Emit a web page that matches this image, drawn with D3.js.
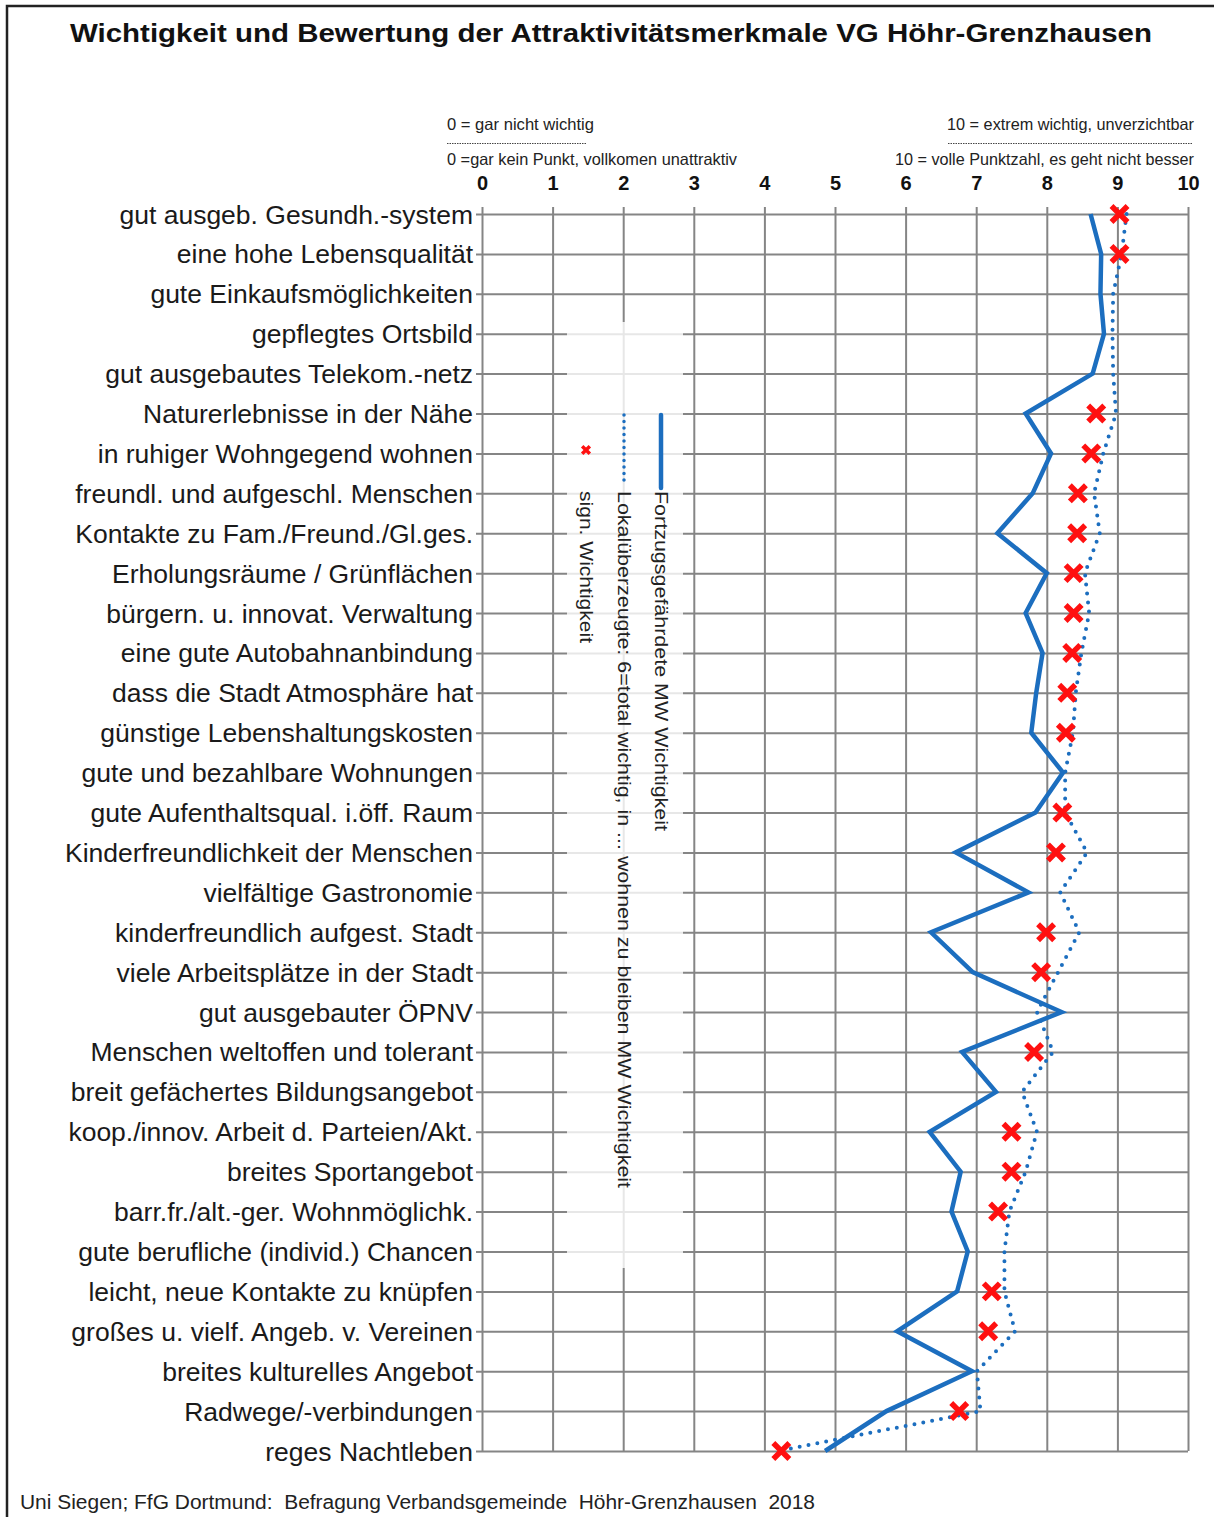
<!DOCTYPE html>
<html>
<head>
<meta charset="utf-8">
<script src="https://cdn.jsdelivr.net/npm/d3@7"></script>
<style>
body { margin: 0; background: #fff; }
text { font-family: "Liberation Sans", Arial, sans-serif; }
.narrow { font-family: "Liberation Sans Narrow", "Arial Narrow", "Liberation Sans", sans-serif; }
</style>
</head>
<body>
<svg></svg>
<script>

var screen = {width: 1214, height: 1517};
var plot = {left: 482, right: 1188, top: 214, bottom: 1451};

// categories, top to bottom
var categories = [
  "gut ausgeb. Gesundh.-system",
  "eine hohe Lebensqualität",
  "gute Einkaufsmöglichkeiten",
  "gepflegtes Ortsbild",
  "gut ausgebautes Telekom.-netz",
  "Naturerlebnisse in der Nähe",
  "in ruhiger Wohngegend wohnen",
  "freundl. und aufgeschl. Menschen",
  "Kontakte zu Fam./Freund./Gl.ges.",
  "Erholungsräume / Grünflächen",
  "bürgern. u. innovat. Verwaltung",
  "eine gute Autobahnanbindung",
  "dass die Stadt Atmosphäre hat",
  "günstige Lebenshaltungskosten",
  "gute und bezahlbare Wohnungen",
  "gute Aufenthaltsqual. i.öff. Raum",
  "Kinderfreundlichkeit der Menschen",
  "vielfältige Gastronomie",
  "kinderfreundlich aufgest. Stadt",
  "viele Arbeitsplätze in der Stadt",
  "gut ausgebauter ÖPNV",
  "Menschen weltoffen und tolerant",
  "breit gefächertes Bildungsangebot",
  "koop./innov. Arbeit d. Parteien/Akt.",
  "breites Sportangebot",
  "barr.fr./alt.-ger. Wohnmöglichk.",
  "gute berufliche (individ.) Chancen",
  "leicht, neue Kontakte zu knüpfen",
  "großes u. vielf. Angeb. v. Vereinen",
  "breites kulturelles Angebot",
  "Radwege/-verbindungen",
  "reges Nachtleben"
];

// Fortzugsgefährdete MW Wichtigkeit (solid)
var fortzug = [8.62, 8.77, 8.76, 8.81, 8.65, 7.70, 8.06, 7.80, 7.30, 8.00,
               7.70, 7.94, 7.85, 7.78, 8.23, 7.84, 6.71, 7.74, 6.36, 6.95,
               8.21, 6.80, 7.28, 6.34, 6.78, 6.65, 6.88, 6.73, 5.88, 6.94,
               5.73, 4.86];

// Lokalüberzeugte MW Wichtigkeit (dotted)
var lokal = [9.13, 9.06, 8.94, 8.93, 8.94, 8.98, 8.80, 8.67, 8.75, 8.54,
             8.60, 8.49, 8.41, 8.37, 8.26, 8.26, 8.57, 8.19, 8.46, 8.16,
             7.86, 8.09, 7.65, 7.86, 7.70, 7.47, 7.40, 7.40, 7.55, 7.01,
             7.06, 4.20];

// sign. Wichtigkeit (red crosses, null = none)
var sign = [9.03, 9.03, null, null, null, 8.70, 8.63, 8.44, 8.43, 8.38,
            8.38, 8.36, 8.29, 8.27, null, 8.22, 8.13, null, 7.99, 7.92,
            null, 7.82, null, 7.50, 7.50, 7.31, null, 7.22, 7.17, null,
            6.76, 4.24];

var ticks = [0, 1, 2, 3, 4, 5, 6, 7, 8, 9, 10];

var blue = "#1c6ebf";
var grid = "#858585";

var svg = d3.select("svg")
    .attr("width", screen.width)
    .attr("height", screen.height)

// outer frame
svg.append("rect")
    .attr("x", 7).attr("y", 6)
    .attr("width", 1230).attr("height", 1540)
    .attr("fill", "none")
    .attr("stroke", "#222")
    .attr("stroke-width", 2.5)

svg.append("text")
    .attr("x", 611).attr("y", 42)
    .attr("text-anchor", "middle")
    .attr("font-size", 26).attr("font-weight", "bold")
    .attr("fill", "#111")
    .attr("textLength", 1082).attr("lengthAdjust", "spacingAndGlyphs")
    .text("Wichtigkeit und Bewertung der Attraktivitätsmerkmale VG Höhr-Grenzhausen")

var xScale = d3.scaleLinear()
    .domain([0, 10])
    .range([plot.left, plot.right]);

var yScale = d3.scalePoint()
    .domain(categories)
    .range([plot.top, plot.bottom]);

// scale explanation
var hdr = svg.append("g").attr("class", "narrow").attr("fill", "#222").attr("font-size", 16.5)
hdr.append("text").attr("x", 447).attr("y", 130)
    .attr("textLength", 147).attr("lengthAdjust", "spacingAndGlyphs")
    .text("0 = gar nicht wichtig")
hdr.append("text").attr("x", 447).attr("y", 165)
    .attr("textLength", 290).attr("lengthAdjust", "spacingAndGlyphs")
    .text("0 =gar kein Punkt, vollkomen unattraktiv")
hdr.append("text").attr("x", 1194).attr("y", 130).attr("text-anchor", "end")
    .attr("textLength", 247).attr("lengthAdjust", "spacingAndGlyphs")
    .text("10 = extrem wichtig, unverzichtbar")
hdr.append("text").attr("x", 1194).attr("y", 165).attr("text-anchor", "end")
    .attr("textLength", 299).attr("lengthAdjust", "spacingAndGlyphs")
    .text("10 = volle Punktzahl, es geht nicht besser")
hdr.append("line").attr("x1", 447).attr("x2", 586).attr("y1", 143.5).attr("y2", 143.5)
    .attr("stroke", "#444").attr("stroke-width", 1).attr("stroke-dasharray", "1.5,1")
hdr.append("line").attr("x1", 948).attr("x2", 1193).attr("y1", 143.5).attr("y2", 143.5)
    .attr("stroke", "#444").attr("stroke-width", 1).attr("stroke-dasharray", "1.5,1")

// vertical grid + numbers
var xAxis = d3.axisTop(xScale)
    .tickValues(ticks)
    .tickSize(-(plot.bottom - 207))
    .tickPadding(17)
    .tickFormat(d3.format("d"))

svg.append("g")
    .attr("id", "xAxis")
    .attr("transform", "translate(0,207)")
    .call(xAxis)
    .call(function(g) { g.select(".domain").remove() })
    .call(function(g) {
        g.selectAll("line").attr("stroke", grid).attr("stroke-width", 2)
        g.selectAll("text").attr("font-size", 20).attr("font-weight", "bold")
            .attr("fill", "#111").attr("font-family", "'Liberation Sans', Arial, sans-serif")
    })

// horizontal grid + category labels
var yAxis = d3.axisLeft(yScale)
    .tickSize(-(plot.right - 476))
    .tickPadding(3)

svg.append("g")
    .attr("id", "yAxis")
    .attr("transform", "translate(476,0)")
    .call(yAxis)
    .call(function(g) { g.select(".domain").remove() })
    .call(function(g) {
        g.selectAll("line").attr("stroke", grid).attr("stroke-width", 2)
        g.selectAll("text").attr("font-size", 26.5).attr("fill", "#1a1a1a")
            .attr("dy", "0.34em")
            .attr("font-family", "'Liberation Sans', Arial, sans-serif")
    })

// legend box (semi transparent over the grid)
svg.append("rect")
    .attr("x", 567).attr("y", 322)
    .attr("width", 116).attr("height", 946)
    .attr("fill", "#fff").attr("fill-opacity", 0.8)

var lineGen = function(values) {
    return d3.line()
        .x(function(d) { return xScale(d.v) })
        .y(function(d) { return yScale(d.c) })(
            values.map(function(v, i) { return {c: categories[i], v: v} }))
}

svg.append("path")
    .attr("d", lineGen(lokal))
    .attr("fill", "none")
    .attr("stroke", blue)
    .attr("stroke-width", 4)
    .attr("stroke-linecap", "round")
    .attr("stroke-dasharray", "0,9")

svg.append("path")
    .attr("d", lineGen(fortzug))
    .attr("fill", "none")
    .attr("stroke", blue)
    .attr("stroke-width", 4.5)
    .attr("stroke-linejoin", "miter")

var cross = d3.symbol().type(d3.symbolX).size(170)

svg.append("g").attr("id", "sign")
    .selectAll("path")
    .data(sign.map(function(v, i) { return {c: categories[i], v: v} })
        .filter(function(d) { return d.v !== null }))
    .enter()
    .append("path")
    .attr("d", cross)
    .attr("transform", function(d) { return "translate(" + xScale(d.v) + "," + yScale(d.c) + ")" })
    .attr("fill", "none")
    .attr("stroke", "#ff1010")
    .attr("stroke-width", 5.5)

// legend (rotated texts)
var legend = svg.append("g").attr("id", "legend")
legend.append("line")
    .attr("x1", 661).attr("x2", 661).attr("y1", 415).attr("y2", 488)
    .attr("stroke", blue).attr("stroke-width", 4.5).attr("stroke-linecap", "round")
legend.append("line")
    .attr("x1", 624).attr("x2", 624).attr("y1", 415).attr("y2", 482)
    .attr("stroke", blue).attr("stroke-width", 3.5).attr("stroke-linecap", "round")
    .attr("stroke-dasharray", "0,6.5")
legend.append("path")
    .attr("d", d3.symbol().type(d3.symbolX).size(40))
    .attr("transform", "translate(586,450)")
    .attr("fill", "none").attr("stroke", "#ff1010").attr("stroke-width", 3.5)

var legendText = [
    {x: 661, text: "Fortzugsgefährdete MW Wichtigkeit", len: 340},
    {x: 624, text: "Lokalüberzeugte: 6=total wichtig, in ... wohnen zu bleiben MW Wichtigkeit", len: 697},
    {x: 586, text: "sign. Wichtigkeit", len: 152}
]
legend.selectAll("text")
    .data(legendText)
    .enter()
    .append("text")
    .attr("transform", function(d) { return "translate(" + d.x + ",491) rotate(90)" })
    .attr("dy", "0.35em")
    .attr("font-size", 18)
    .attr("fill", "#222")
    .attr("textLength", function(d) { return d.len })
    .attr("lengthAdjust", "spacingAndGlyphs")
    .text(function(d) { return d.text })

svg.append("text")
    .attr("x", 20).attr("y", 1509)
    .attr("font-size", 20)
    .attr("fill", "#222")
    .attr("textLength", 795).attr("lengthAdjust", "spacingAndGlyphs")
    .style("white-space", "pre")
    .text("Uni Siegen; FfG Dortmund:  Befragung Verbandsgemeinde  Höhr-Grenzhausen  2018")

</script>
</body>
</html>
